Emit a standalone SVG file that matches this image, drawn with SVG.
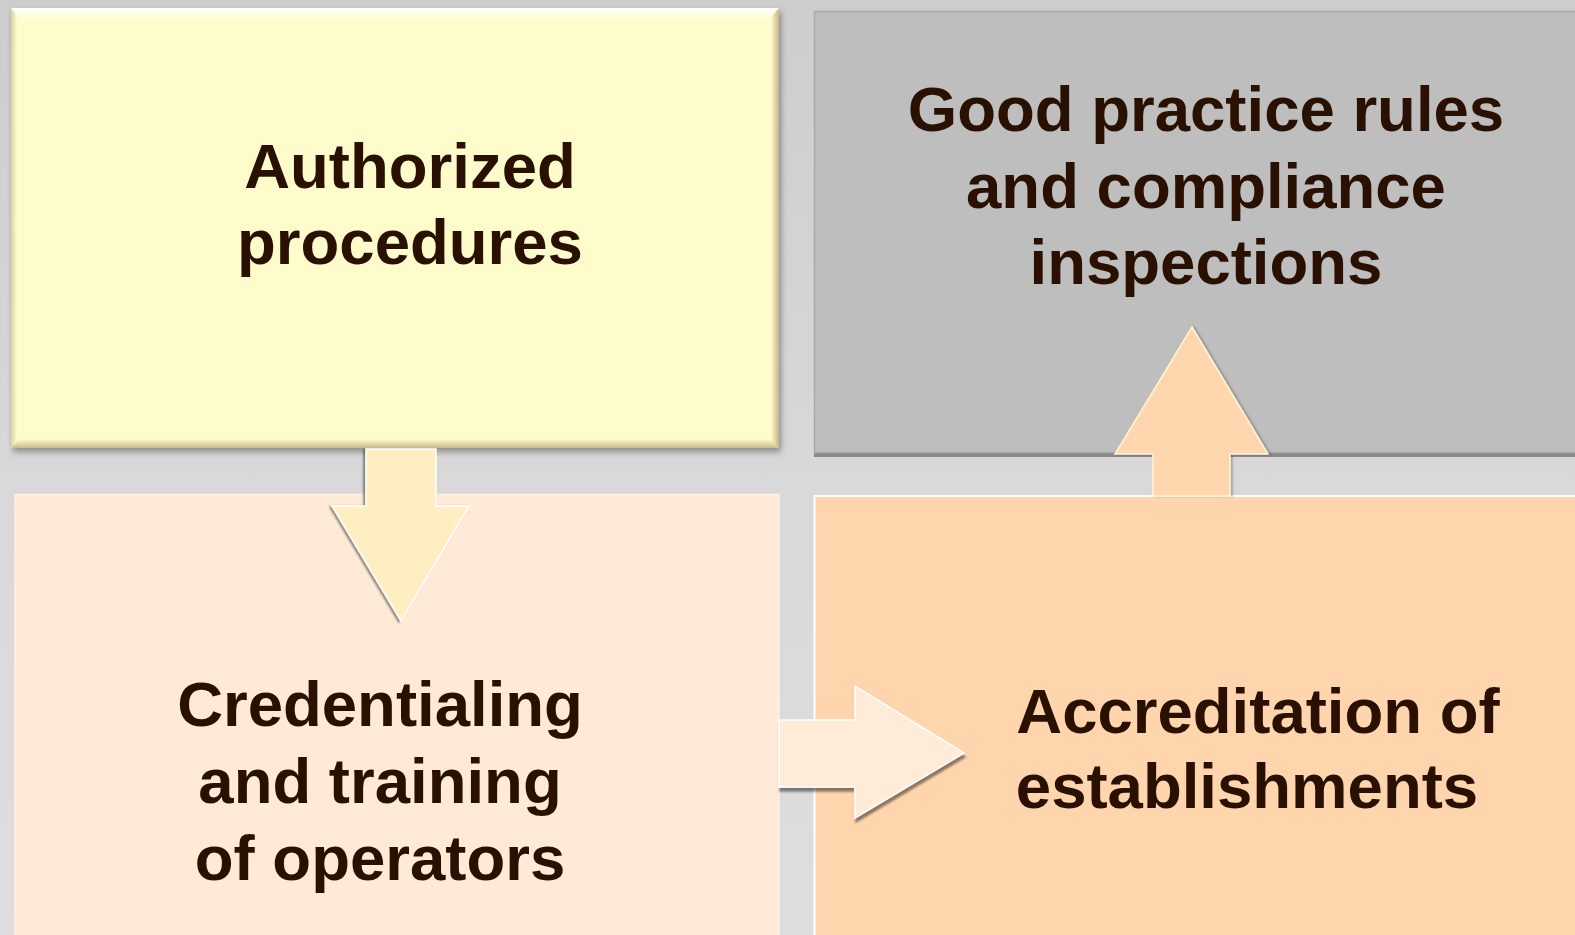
<svg xmlns="http://www.w3.org/2000/svg" width="1575" height="935" viewBox="0 0 1575 935">
  <defs>
    <linearGradient id="bg" x1="0" y1="0" x2="0" y2="1">
      <stop offset="0" stop-color="#CDCDCD"/>
      <stop offset="0.5" stop-color="#D8D8D8"/>
      <stop offset="1" stop-color="#DEDEDE"/>
    </linearGradient>
    <linearGradient id="bevTop" x1="0" y1="0" x2="0" y2="1">
      <stop offset="0" stop-color="#FFFFFF"/>
      <stop offset="1" stop-color="#FFFCCB"/>
    </linearGradient>
    <linearGradient id="bevBot" x1="0" y1="0" x2="0" y2="1">
      <stop offset="0" stop-color="#FFFCCB"/>
      <stop offset="1" stop-color="#C9BB88"/>
    </linearGradient>
    <linearGradient id="bevRight" x1="0" y1="0" x2="1" y2="0">
      <stop offset="0" stop-color="#FFFCCB"/>
      <stop offset="1" stop-color="#C4B585"/>
    </linearGradient>
    <linearGradient id="bevLeft" x1="0" y1="0" x2="1" y2="0">
      <stop offset="0" stop-color="#D8D2A8"/>
      <stop offset="1" stop-color="#FFFCCB"/>
    </linearGradient>
    <filter id="boxShadow" x="-5%" y="-5%" width="110%" height="115%">
      <feDropShadow dx="2" dy="4" stdDeviation="3" flood-color="#000" flood-opacity="0.35"/>
    </filter>
    <filter id="shDown" x="-20%" y="-20%" width="140%" height="140%">
      <feDropShadow dx="-2" dy="1" stdDeviation="0.8" flood-color="#000" flood-opacity="0.45"/>
    </filter>
    <filter id="shRight" x="-20%" y="-20%" width="140%" height="140%">
      <feDropShadow dx="1" dy="4" stdDeviation="0.8" flood-color="#000" flood-opacity="0.45"/>
    </filter>
    <filter id="shUp" x="-20%" y="-20%" width="140%" height="140%">
      <feDropShadow dx="2" dy="0" stdDeviation="0.8" flood-color="#000" flood-opacity="0.25"/>
    </filter>
  </defs>
  <style>
    .lbl { font-family: "Liberation Sans", Arial, sans-serif; font-weight: bold; font-size: 63.5px; fill: #2A1000; text-anchor: middle; }
  </style>

  <rect x="0" y="0" width="1575" height="935" fill="url(#bg)"/>

  <g id="node-authorized">
    <g filter="url(#boxShadow)">
      <rect x="11" y="8" width="768" height="440" fill="#FFFCCB"/>
    </g>
    <polygon points="11,8 779,8 769,20 21,20" fill="url(#bevTop)"/>
    <polygon points="11,448 779,448 771,439 19,439" fill="url(#bevBot)"/>
    <polygon points="779,8 779,448 771,439 771,17" fill="url(#bevRight)"/>
    <polygon points="11,8 11,448 17,440 17,16" fill="url(#bevLeft)"/>
    <text class="lbl" x="410" y="188">Authorized</text>
    <text class="lbl" x="410" y="264">procedures</text>
  </g>

  <g id="node-goodpractice">
    <rect x="814" y="452" width="770" height="5" fill="#8A8A8A"/>
    <rect x="814.5" y="11.5" width="770" height="441" fill="#BEBEBE" stroke="#A9A9A9" stroke-width="1.5"/>
    <text class="lbl" x="1206" y="131">Good practice rules</text>
    <text class="lbl" x="1206" y="208">and compliance</text>
    <text class="lbl" x="1206" y="284">inspections</text>
  </g>

  <g id="node-credentialing">
    <rect x="15" y="494.5" width="764" height="450" fill="#FEEAD7" stroke="#FFF0E4" stroke-width="1.5"/>
    <text class="lbl" x="380" y="726">Credentialing</text>
    <text class="lbl" x="380" y="803">and training</text>
    <text class="lbl" x="380" y="880">of operators</text>
  </g>

  <g id="node-accreditation">
    <rect x="814.5" y="496" width="770" height="450" fill="#FFD5AD" stroke="#FFFFFF" stroke-width="2"/>
    <text class="lbl" x="1258" y="733">Accreditation of</text>
    <text class="lbl" x="1247" y="808">establishments</text>
  </g>

  <g id="connectors">
    <polygon filter="url(#shDown)" points="366,449 436,449 436,506 469,506 401,621 332,506 366,506" fill="#FFEEC1" stroke="#FFFFFF" stroke-width="1.5" stroke-linejoin="miter"/>
    <polygon filter="url(#shRight)" points="779,720 855,720 855,686 964,753 855,818 855,787 779,787" fill="#FEEBD8" stroke="#FFFFFF" stroke-width="1.5" stroke-linejoin="miter"/>
    <polygon filter="url(#shUp)" points="1153,496 1153,454 1115,454 1192,327 1268,454 1230,454 1230,496" fill="#FFD6AE" stroke="#FFF6CF" stroke-width="1.5" stroke-linejoin="miter"/>
  </g>
</svg>
